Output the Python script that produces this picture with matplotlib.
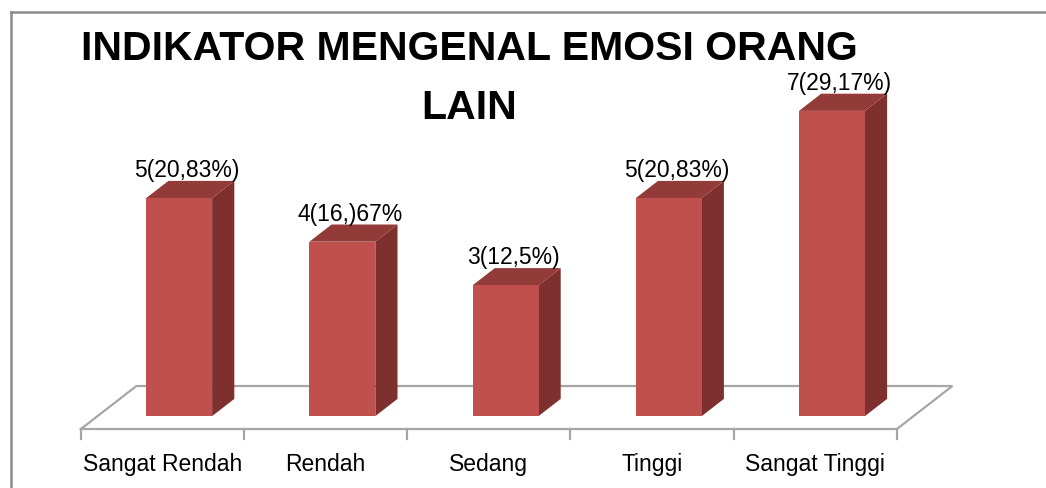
import numpy as np
import matplotlib.pyplot as plt
from matplotlib.patches import Polygon
from matplotlib.lines import Line2D

plt.rcParams['font.family'] = ['Liberation Sans', 'DejaVu Sans']

# data
categories = ["Sangat Rendah", "Rendah", "Sedang", "Tinggi", "Sangat Tinggi"]
values = [5, 4, 3, 5, 7]
value_labels = ["5(20,83%)", "4(16,)67%", "3(12,5%)", "5(20,83%)", "7(29,17%)"]
title_lines = ["INDIKATOR MENGENAL EMOSI ORANG", "LAIN"]

# oblique projection of the floor depth (data units per full depth)
DX, DY = 0.34, 0.986
d0, d1 = 0.30, 0.70
bar_w = 0.404

front_c = "#C0504D"
side_c = "#7D302E"
top_c = "#933B38"
grid_c = "#A6A6A6"


def proj(x, v, d):
    return (x + d * DX, v + d * DY)


fig = plt.figure(figsize=(10.46, 4.89), dpi=100)
ax = fig.add_axes([0, 0, 1, 1])
ax.set_xlim(-0.9957, 5.4136)
ax.set_ylim(-1.353, 9.862)
ax.axis("off")

n = len(categories)
# floor
x0, x1 = -0.5, n - 0.5
floor = [proj(x0, 0, 0), proj(x1, 0, 0), proj(x1, 0, 1), proj(x0, 0, 1), proj(x0, 0, 0)]
fx, fy = zip(*floor)
ax.plot(fx, fy, color=grid_c, lw=1.6, zorder=1, solid_joinstyle="miter")
for t in np.arange(n + 1) - 0.5:
    ax.plot([t, t], [0, -0.23], color=grid_c, lw=1.6, zorder=1)

# bars
for i, v in enumerate(values):
    xl, xr = i - bar_w / 2, i + bar_w / 2
    front = [proj(xl, 0, d0), proj(xr, 0, d0), proj(xr, v, d0), proj(xl, v, d0)]
    side = [proj(xr, 0, d0), proj(xr, 0, d1), proj(xr, v, d1), proj(xr, v, d0)]
    top = [proj(xl, v, d0), proj(xr, v, d0), proj(xr, v, d1), proj(xl, v, d1)]
    ax.add_patch(Polygon(side, closed=True, fc=side_c, ec="none", zorder=3))
    ax.add_patch(Polygon(top, closed=True, fc=top_c, ec="none", zorder=3))
    ax.add_patch(Polygon(front, closed=True, fc=front_c, ec="none", zorder=4))
    ly = v + d1 * DY
    ax.text(i + 0.15, ly + 0.0, value_labels[i], ha="center", va="bottom",
            fontsize=16.5, color="black", zorder=5)
    ax.text(i, -0.80, categories[i], ha="center", va="center",
            fontsize=16.5, color="black")

# title, two centred lines
for k, (line, ty) in enumerate(zip(title_lines, [8.74, 7.38])):
    ax.text(1.88, ty, line, ha="center", va="center", fontsize=29.5,
            fontweight="bold")

# chart border (only top and left visible)
fig.add_artist(Line2D([11 / 1046, 11 / 1046], [0, 1 - 13 / 489],
                      transform=fig.transFigure, color="#8C8C8C", lw=1.8))
fig.add_artist(Line2D([11 / 1046, 1], [1 - 13 / 489, 1 - 13 / 489],
                      transform=fig.transFigure, color="#8C8C8C", lw=1.8))

fig.savefig("out.png", dpi=100)
